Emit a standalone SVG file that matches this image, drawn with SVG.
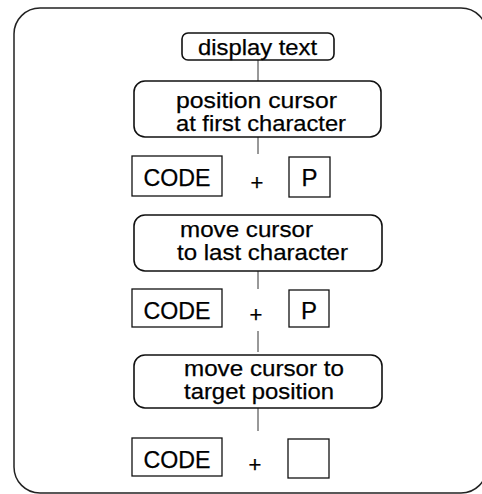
<svg xmlns="http://www.w3.org/2000/svg" width="482" height="494" viewBox="0 0 482 494">
<style>
  .frame { fill: none; stroke: #222; stroke-width: 1.5; }
  .rbox { fill: #fff; stroke: #111; stroke-width: 1.6; }
  .key { fill: #fff; stroke: #111; stroke-width: 1.3; }
  .conn { stroke: #333; stroke-width: 1; fill: none; }
  text { font-family: "Liberation Sans", Arial, Helvetica, sans-serif; fill: #000; stroke: #000; stroke-width: 0.25; }
  .lbl { font-size: 22.5px; }
  .keytxt { font-size: 24px; text-anchor: middle; }
  .plus { font-size: 22px; text-anchor: middle; }
</style>
<rect width="482" height="494" fill="#fff"/>
<rect class="frame" x="14" y="8" width="473" height="485" rx="26" ry="26"/>

<g id="connectors">
  <line class="conn" x1="258" y1="60" x2="258" y2="81"/>
  <line class="conn" x1="258" y1="137" x2="258" y2="154"/>
  <line class="conn" x1="258" y1="271" x2="258" y2="289"/>
  <line class="conn" x1="258" y1="331" x2="258" y2="352"/>
  <line class="conn" x1="258" y1="408" x2="258" y2="431"/>
</g>

<g id="display-text">
  <rect class="rbox" x="182" y="33" width="152" height="27" rx="6"/>
  <text class="lbl" x="198" y="54.5" textLength="119" lengthAdjust="spacingAndGlyphs">display text</text>
</g>

<g id="position-cursor">
  <rect class="rbox" x="134" y="81" width="247" height="56" rx="11"/>
  <text class="lbl" x="176" y="108" textLength="161" lengthAdjust="spacingAndGlyphs">position cursor</text>
  <text class="lbl" x="176" y="131" textLength="170" lengthAdjust="spacingAndGlyphs">at first character</text>
</g>

<g id="keys-1">
  <rect class="key" x="132" y="156" width="90" height="40"/>
  <text class="keytxt" x="177" y="186" textLength="67" lengthAdjust="spacingAndGlyphs">CODE</text>
  <text class="plus" x="257" y="190">+</text>
  <rect class="key" x="289" y="157" width="41" height="40"/>
  <text class="keytxt" x="309.5" y="186">P</text>
</g>

<g id="move-last">
  <rect class="rbox" x="134" y="215" width="248" height="56" rx="11"/>
  <text class="lbl" x="180" y="237" textLength="133" lengthAdjust="spacingAndGlyphs">move cursor</text>
  <text class="lbl" x="177" y="260" textLength="171" lengthAdjust="spacingAndGlyphs">to last character</text>
</g>

<g id="keys-2">
  <rect class="key" x="132" y="289" width="90" height="38"/>
  <text class="keytxt" x="177" y="319" textLength="67" lengthAdjust="spacingAndGlyphs">CODE</text>
  <text class="plus" x="256" y="322">+</text>
  <rect class="key" x="289" y="290" width="40" height="37"/>
  <text class="keytxt" x="309" y="319">P</text>
</g>

<g id="move-target">
  <rect class="rbox" x="134" y="355" width="248" height="53" rx="11"/>
  <text class="lbl" x="184" y="376" textLength="160" lengthAdjust="spacingAndGlyphs">move cursor to</text>
  <text class="lbl" x="184" y="399" textLength="150" lengthAdjust="spacingAndGlyphs">target position</text>
</g>

<g id="keys-3">
  <rect class="key" x="132" y="438" width="90" height="38"/>
  <text class="keytxt" x="177" y="468" textLength="67" lengthAdjust="spacingAndGlyphs">CODE</text>
  <text class="plus" x="255" y="472">+</text>
  <rect class="key" x="288" y="439" width="41" height="39"/>
</g>
</svg>
